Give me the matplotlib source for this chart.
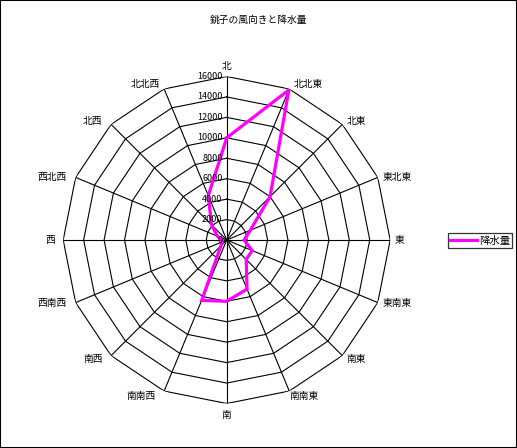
import numpy as np
import matplotlib
matplotlib.use("Agg")
import matplotlib.pyplot as plt
from matplotlib.patches import Rectangle

plt.rcParams['font.family'] = ['Noto Sans CJK JP', 'DejaVu Sans']

title = "銚子の風向きと降水量"
directions = ["北", "北北東", "北東", "東北東", "東", "東南東", "南東", "南南東",
              "南", "南南西", "南西", "西南西", "西", "西北西", "北西", "北北西"]
rain = [10000, 15900, 6000, 2500, 1700, 2700, 2700, 5200,
        6000, 6400, 800, 500, 400, 1000, 2100, 4700]
r_ticks = [0, 2000, 4000, 6000, 8000, 10000, 12000, 14000, 16000]
series_name = "降水量"

W, H = 517, 448
fig = plt.figure(figsize=(W / 100, H / 100), dpi=100)
fig.patch.set_facecolor('white')
fig.patches.append(Rectangle((0, 0), 1, 1, transform=fig.transFigure,
                             fill=False, edgecolor='black', lw=1.5))

cx, cy, R = 226.7, 240, 163.5
ax = fig.add_axes([(cx - R) / W, (H - cy - R) / H, 2 * R / W, 2 * R / H],
                  projection='polar')
ax.set_theta_zero_location('N')
ax.set_theta_direction(-1)
ax.set_ylim(0, r_ticks[-1])
ax.grid(False)
ax.set_xticks([])
ax.set_yticks([])
ax.spines['polar'].set_visible(False)
ax.patch.set_alpha(0)

n = len(directions)
theta = np.arange(n) * 2 * np.pi / n
theta_closed = np.append(theta, theta[0])

# polygon grid
for rv in r_ticks[1:]:
    ax.plot(theta_closed, [rv] * (n + 1), color='black', lw=0.8, zorder=1)
# spokes
for t in theta:
    ax.plot([t, t], [0, r_ticks[-1]], color='black', lw=0.8, zorder=1)

# data
vals = np.append(rain, rain[0])
ax.plot(theta_closed, vals, color='#FF00FF', lw=2.3, zorder=3,
        solid_joinstyle='miter')

# radial tick labels
for rv in r_ticks:
    ax.annotate(str(rv), xy=(0, rv), xytext=(-3, 0), textcoords='offset points',
                ha='right', va='center', fontsize=6.5, zorder=4)

# category labels anchored just outside the outer polygon vertices
for t, lab in zip(theta, directions):
    s, c = np.sin(t), np.cos(t)
    if abs(s) < 0.1:
        ha, ox = 'center', 0.0
    elif s > 0:
        ha, ox = 'left', 4.5
    else:
        ha, ox = 'right', -8.5
    if abs(c) > 0.9:
        va = 'bottom' if c > 0 else 'top'
        oy = (6.0 if abs(s) < 0.1 else 0.0) * np.sign(c)
        if abs(s) >= 0.1 and s < 0 and c > 0:
            ox = -4.5
        if abs(s) >= 0.1 and s > 0 and c < 0:
            ox = 0.5
    else:
        va = 'center'
        oy = 3.4 * np.sign(c) if abs(c) > 0.5 else 0.0
    ax.annotate(lab, xy=(t, r_ticks[-1]), xytext=(ox * 0.72, oy * 0.72),
                textcoords='offset points', ha=ha, va=va, fontsize=7)

fig.text(259 / W, 1 - 20 / H, title, ha='center', va='center', fontsize=7)

leg = ax.legend([ax.lines[-1]], [series_name], loc='center left',
                bbox_to_anchor=(448 / W, 1 - 240.5 / H),
                bbox_transform=fig.transFigure, fontsize=7.5, frameon=True,
                fancybox=False, edgecolor='black', handlelength=2.6,
                borderpad=0.2, handletextpad=0.2, borderaxespad=0)
leg.get_frame().set_linewidth(0.9)

fig.savefig("out.png", dpi=100)
